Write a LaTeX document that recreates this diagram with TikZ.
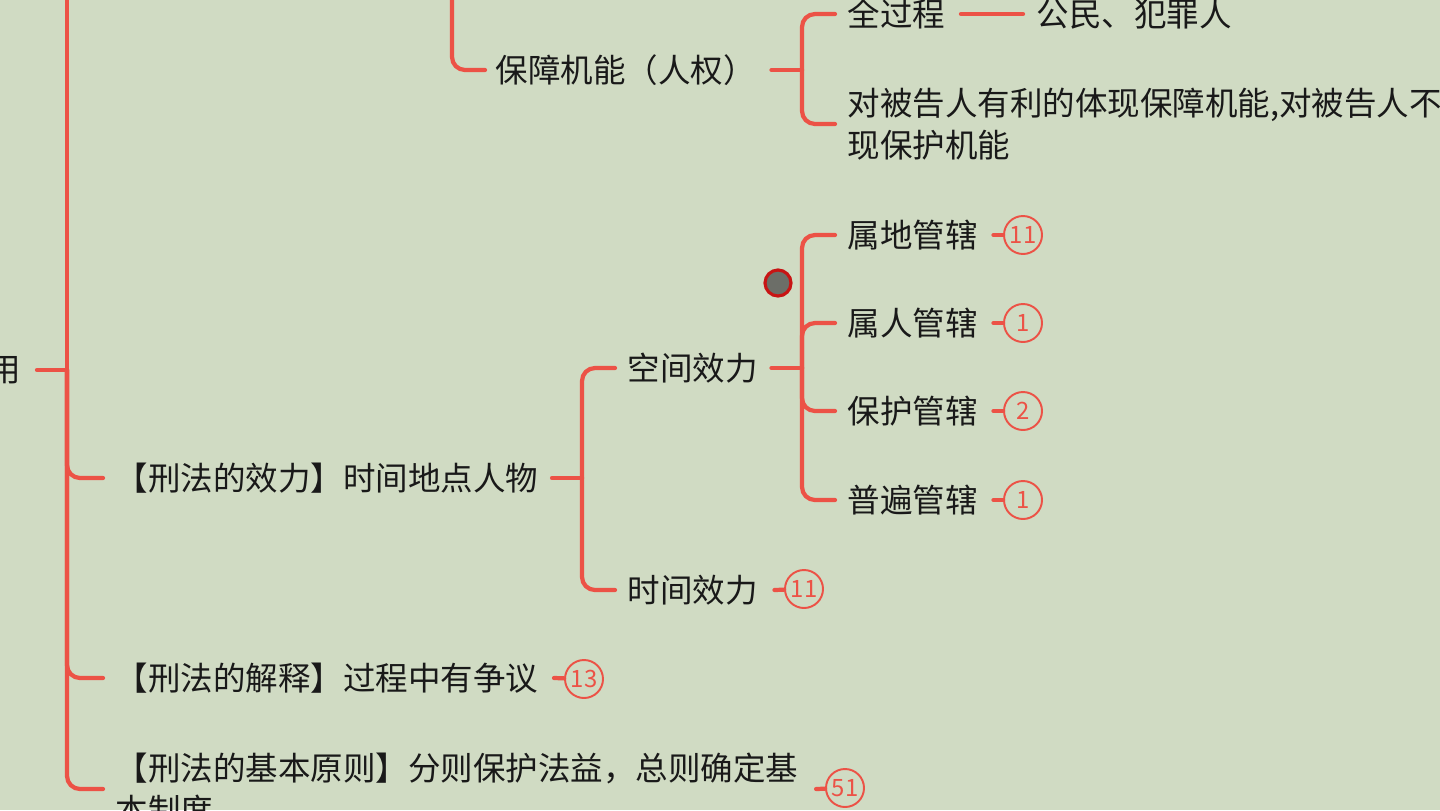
\documentclass[tikz,border=0pt]{standalone}
\usepackage{fontspec}
\setmainfont{Noto Sans CJK SC}
\definecolor{mapbg}{RGB}{208,219,195}
\definecolor{mapred}{RGB}{236,82,70}
\definecolor{markgray}{RGB}{108,110,104}
\definecolor{markred}{RGB}{200,20,20}
\begin{document}
\begin{tikzpicture}
        \begin{scope}
            \tikzset{tnode/.style = {
                anchor=west,
                inner sep=0pt,
                align=left,
                text=black!90,
                font=\fontsize{9.25pt}{11.9pt}\selectfont } }
            \tikzset{bline/.style = {
                draw=mapred,
                line width=1.2pt,
                line cap=round,
                rounded corners=0.13cm } }
            \tikzset{cnt/.style = {
                circle,
                draw=mapred,
                line width=0.55pt,
                inner sep=0pt,
                minimum size=0.38cm,
                text=mapred,
                font=\fontsize{6.8pt}{6.8pt}\selectfont\addfontfeatures{Scale=1} } }
                \clip (0,0) rectangle (14.4,8.1);
                \fill[mapbg] (0,0) rectangle (14.4,8.1);
                \coordinate (maintop) at (0.67,8.3);
                \coordinate (jmain) at (0.67,4.40);
                \coordinate (bztop) at (4.52,8.3);
                \coordinate (jbz) at (8.02,7.40);
                \coordinate (jxl) at (5.82,3.32);
                \coordinate (jkj) at (8.02,4.42);
                \node[tnode, anchor=east] (yong) at (0.22,4.40) {用};
                \node[tnode] (baozhang) at (4.95,7.40) {保障机能（人权）};
                \node[tnode] (quan) at (8.47,7.96) {全过程};
                \node[tnode] (gongmin) at (10.36,7.96) {公民、犯罪人};
                \node[tnode] (beigao) at (8.47,6.86) {对被告人有利的体现保障机能,对被告人不\\现保护机能};
                \node[tnode] (xiaoli) at (1.15,3.32) {【刑法的效力】时间地点人物};
                \node[tnode] (kongjian) at (6.27,4.42) {空间效力};
                \node[tnode] (shijian) at (6.27,2.20) {时间效力};
                \node[tnode] (jieshi) at (1.15,1.32) {【刑法的解释】过程中有争议};
                \node[tnode] (yuanze) at (1.15,0.21) {【刑法的基本原则】分则保护法益，总则确定基\\本制度};
                \node[cnt] (cshijian) at (8.04,2.21) {11};
                \node[cnt] (cjieshi) at (5.84,1.31) {13};
                \node[cnt] (cyuanze) at (8.45,0.22) {51};
                \node[circle, draw=markred, fill=markgray, line width=0.9pt,
                    inner sep=0pt, minimum size=0.26cm] (marker) at (7.78,5.27) {};
                \foreach \n/\t/\y/\c in {shudi/属地管辖/5.75/11, shuren/属人管辖/4.87/1,
                                         baohu/保护管辖/3.99/2, pubian/普遍管辖/3.10/1}{
                    \node[tnode] (\n) at (8.47,\y) {\t};
                    \node[cnt] (c\n) at (10.23,\y) {\c};
                    \path[bline] (jkj) |- ([xshift=-0.12cm]\n.west);
                    \path[bline] ([xshift=0.15cm]\n.east) -- (c\n);
                }
                \path[bline] (maintop) -- (jmain);
                \path[bline] ([xshift=0.15cm]yong.east) -- (jmain);
                \foreach \n in {xiaoli,jieshi,yuanze}{
                    \path[bline] (jmain) |- ([xshift=-0.12cm]\n.west);
                }
                \path[bline] (bztop) |- ([xshift=-0.10cm]baozhang.west);
                \path[bline] ([xshift=0.15cm]baozhang.east) -- (jbz);
                \path[bline] (jbz) |- ([xshift=-0.12cm]quan.west);
                \path[bline] (jbz) |- ([xshift=-0.12cm]beigao.west);
                \path[bline] ([xshift=0.15cm]quan.east) -- ([xshift=-0.13cm]gongmin.west);
                \path[bline] ([xshift=0.13cm]xiaoli.east) -- (jxl);
                \path[bline] (jxl) |- ([xshift=-0.12cm]kongjian.west);
                \path[bline] (jxl) |- ([xshift=-0.12cm]shijian.west);
                \path[bline] ([xshift=0.13cm]kongjian.east) -- (jkj);
                \path[bline] ([xshift=0.16cm]shijian.east) -- (cshijian);
                \path[bline] ([xshift=0.15cm]jieshi.east) -- (cjieshi);
                \path[bline] ([xshift=0.17cm]yuanze.east) -- (cyuanze);
        \end{scope}
    \end{tikzpicture}
\end{document}
